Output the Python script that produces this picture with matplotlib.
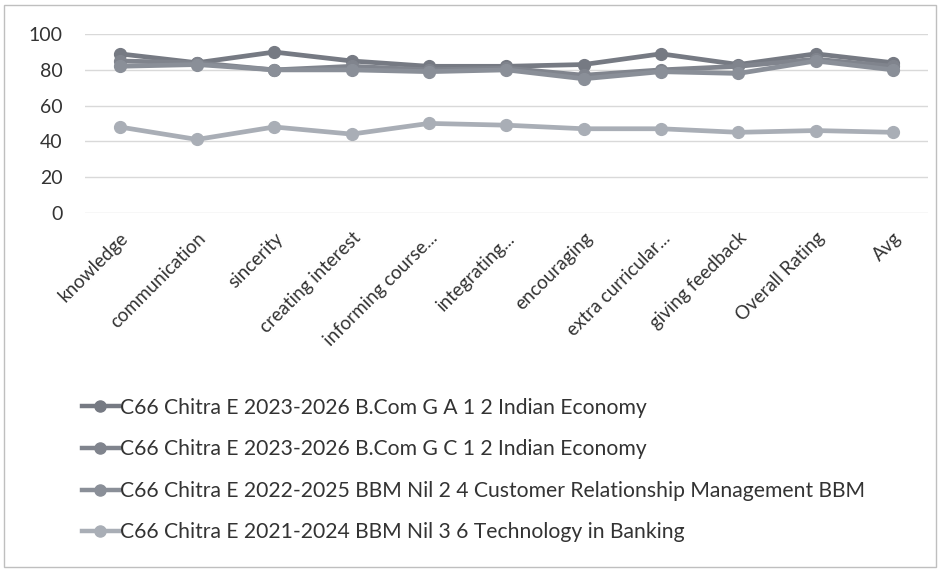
import matplotlib
matplotlib.use('Agg')
from matplotlib import pyplot as plt
from matplotlib.lines import Line2D

plt.rcParams['font.family'] = ['Lato', 'DejaVu Sans']

categories = ['knowledge', 'communication', 'sincerity', 'creating interest',
              'informing course...', 'integrating...', 'encouraging',
              'extra curricular...', 'giving feedback', 'Overall Rating', 'Avg']

series_names = [
    'C66 Chitra E 2023-2026 B.Com G A 1 2 Indian Economy',
    'C66 Chitra E 2023-2026 B.Com G C 1 2 Indian Economy',
    'C66 Chitra E 2022-2025 BBM Nil 2 4 Customer Relationship Management BBM',
    'C66 Chitra E 2021-2024 BBM Nil 3 6 Technology in Banking',
]
bcom_a = [89, 84, 90, 85, 82, 82, 83, 89, 83, 89, 84]
bcom_c = [85, 84, 80, 82, 80, 81, 77, 80, 82, 86, 82]
bbm_crm = [82, 83, 80, 80, 79, 80, 75, 79, 78, 85, 80]
bbm_tb = [48, 41, 48, 44, 50, 49, 47, 47, 45, 46, 45]

colors = ['#767a83', '#80848d', '#8a8f98', '#a9aeb6']
values = [bcom_a, bcom_c, bbm_crm, bbm_tb]

fig = plt.figure(figsize=(9.42, 5.70), dpi=100)
ax = fig.add_axes([0.09, 0.627, 0.895, 0.313])

x = range(len(categories))
for name, vals, c in zip(series_names, values, colors):
    ax.plot(x, vals, color=c, lw=3.4, marker='o', ms=8.5, label=name)

ax.set_ylim(0, 100)
ax.set_yticks(range(0, 101, 20))
ax.set_xlim(-0.45, len(categories) - 0.55)
ax.set_xticks(list(x))
ax.set_xticklabels(categories, rotation=45, ha='right', rotation_mode='anchor',
                   fontsize=13.5, color='#333333')
ax.tick_params(axis='y', labelsize=14, labelcolor='#333333', length=0, pad=16)
ax.tick_params(axis='x', length=0, pad=12)
ax.grid(axis='y', color='#d9d9d9', lw=1)
for s in ax.spines.values():
    s.set_visible(False)

handles = [Line2D([], [], color=c, lw=3.2, marker='o', ms=8) for c in colors]
fig.legend(handles, series_names, loc='upper left', bbox_to_anchor=(0.087, 0.302),
           frameon=False, fontsize=15.2, labelspacing=1.02, handlelength=1.75,
           handletextpad=0.05, borderpad=0, borderaxespad=0, labelcolor='#333333')

fig.patches.append(plt.Rectangle((0.004, 0.006), 0.99, 0.985, transform=fig.transFigure,
                                 fill=False, edgecolor='#bfbfbf', lw=1))

fig.savefig('out.png', dpi=100)
